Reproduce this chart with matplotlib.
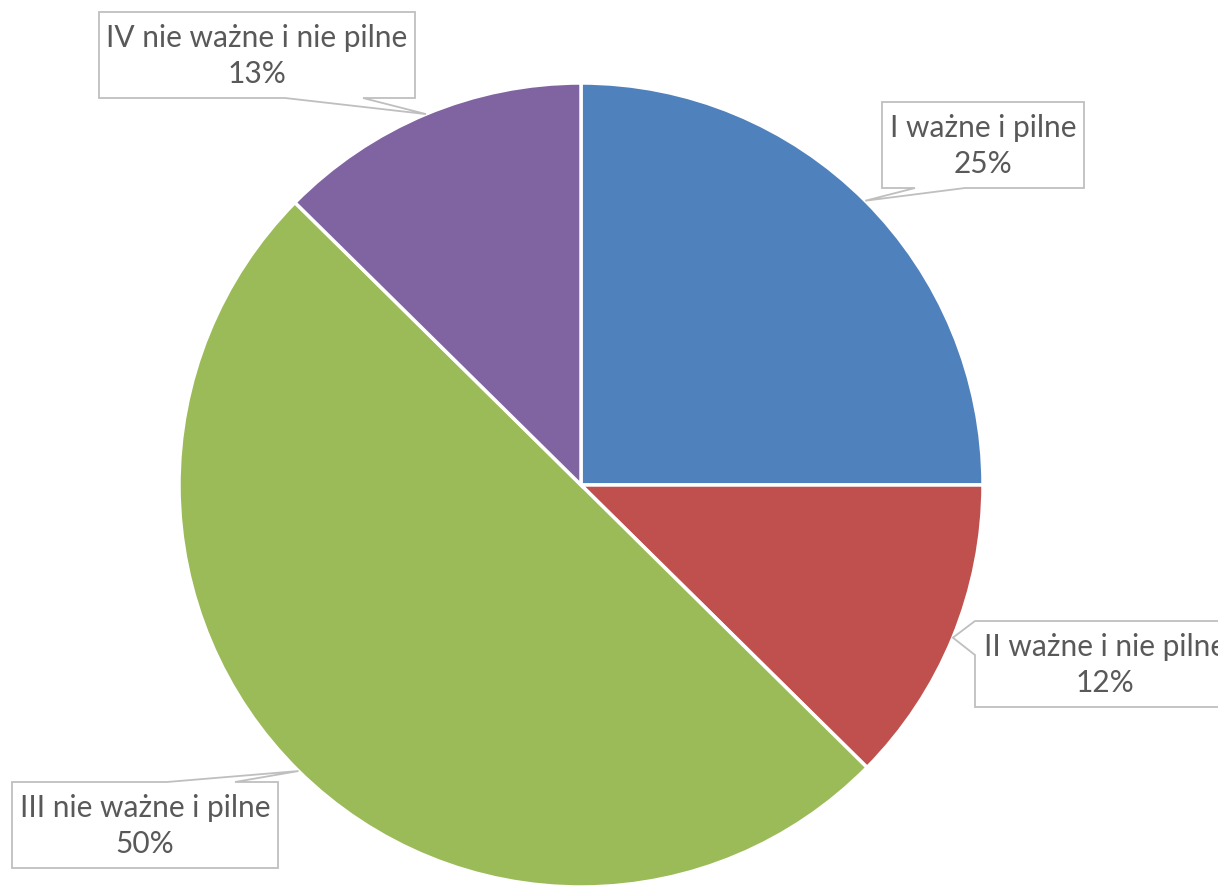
import numpy as np
import matplotlib
matplotlib.use("Agg")
import matplotlib.pyplot as plt
from matplotlib.patches import Polygon

labels = ["I ważne i pilne", "II ważne i nie pilne", "III nie ważne i pilne", "IV nie ważne i nie pilne"]
values = [25.0, 12.4, 50.0, 12.6]
colors = ["#4F81BD", "#C0504D", "#9BBB59", "#8064A2"]

W, H = 1218, 886
fig = plt.figure(figsize=(W / 100, H / 100), dpi=100)
ax = fig.add_axes([0, 0, 1, 1])

CX, CY, R = 581, 485, 402

def py(y):
    return H - y

wedges, _ = ax.pie(values, colors=colors, startangle=90, counterclock=False,
                   center=(CX, py(CY)), radius=R,
                   wedgeprops=dict(edgecolor="white", linewidth=2.5))

# callout boxes (pixel layout): box x0,y0,x1,y1 ; side ; pointer base
layout = [
    dict(box=(882, 102, 1084, 188), side="bottom", base=(915, 965)),
    dict(box=(975, 621, 1235, 707), side="left", base=(621, 655)),
    dict(box=(12, 782, 278, 868), side="top", base=(167, 235)),
    dict(box=(99, 12, 415, 98), side="bottom", base=(285, 363)),
]

total = sum(values)
for w, lab, v, L in zip(wedges, labels, values, layout):
    mid = np.deg2rad((w.theta1 + w.theta2) / 2)
    ax_x = CX + R * np.cos(mid)
    ax_y = py(CY) + R * np.sin(mid)
    tip = (ax_x, H - ax_y)  # pixel coords
    x0, y0, x1, y1 = L["box"]
    b1, b2 = L["base"]
    if L["side"] == "bottom":
        verts = [(x0, y0), (x1, y0), (x1, y1), (b2, y1), tip, (b1, y1), (x0, y1)]
    elif L["side"] == "top":
        verts = [(x0, y0), (b1, y0), tip, (b2, y0), (x1, y0), (x1, y1), (x0, y1)]
    else:  # left
        verts = [(x0, y0), (x1, y0), (x1, y1), (x0, y1), (x0, b2), tip, (x0, b1)]
    verts = [(x, py(y)) for x, y in verts]
    ax.add_patch(Polygon(verts, closed=True, facecolor="white", edgecolor="#BFBFBF",
                         linewidth=1.3, zorder=5))
    tx = (x0 + x1) / 2
    ty = (y0 + y1) / 2 + 1
    pct = int(np.floor(v / total * 100 + 0.5))
    ax.text(tx, py(ty), f"{lab}\n{pct}%", ha="center", va="center",
            fontsize=21.5, family=["Lato", "DejaVu Sans"], color="#595959",
            linespacing=1.38, zorder=6)

ax.set_xlim(0, W)
ax.set_ylim(0, H)
ax.set_aspect("equal")
ax.axis("off")
fig.savefig("out.png", dpi=100)
